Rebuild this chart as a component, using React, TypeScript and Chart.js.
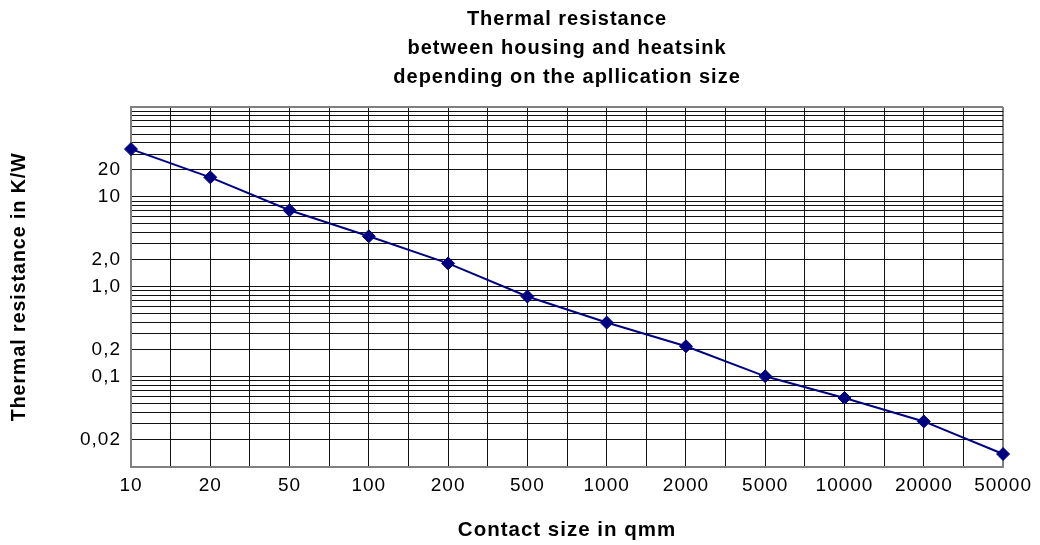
import React, { useEffect, useRef } from 'react';
import { Chart, registerables } from 'chart.js';

Chart.register(...registerables);

// ---- data ----
const categories = ['10', '20', '50', '100', '200', '500', '1000', '2000', '5000', '10000', '20000', '50000'];
const resistance = [34, 16.5, 7.1, 3.65, 1.82, 0.78, 0.4, 0.218, 0.101, 0.058, 0.0318, 0.0138];
const yTickValues = [20, 10, 2, 1, 0.2, 0.1, 0.02];
const yTickLabels = ['20', '10', '2,0', '1,0', '0,2', '0,1', '0,02'];
const titleLines = ['Thermal resistance', 'between housing and heatsink', 'depending on the apllication size'];
const xTitle = 'Contact size in qmm';
const yTitle = 'Thermal resistance in K/W';
const yMin = 0.01;
const yMax = 100;

const FONT = "'Liberation Sans', Arial, Helvetica, sans-serif";
const SPACING = '1px';

const letterSpacingPlugin = {
  id: 'letterSpacing',
  beforeUpdate(chart: any) {
    chart.ctx.letterSpacing = SPACING;
  },
  beforeDraw(chart: any) {
    chart.ctx.letterSpacing = SPACING;
  },
};

function buildLogGrid(): number[] {
  const vals: number[] = [];
  const eMin = Math.round(Math.log10(yMin));
  const eMax = Math.round(Math.log10(yMax));
  for (let e = eMin; e < eMax; e++) {
    for (let m = 1; m <= 9; m++) {
      vals.push(Number((m * Math.pow(10, e)).toPrecision(6)));
    }
  }
  vals.push(yMax);
  return vals;
}

export default function App() {
  const ref = useRef<HTMLCanvasElement>(null);

  useEffect(() => {
    if (!ref.current) return;
    const points = resistance.map((v, i) => ({ x: i, y: v }));
    const nX = categories.length;
    const chart = new Chart(ref.current, {
      type: 'line',
      data: {
        datasets: [
          {
            data: points,
            borderColor: '#000080',
            backgroundColor: '#000080',
            borderWidth: 2,
            pointStyle: 'rectRot',
            pointRadius: 6.5,
            pointBorderWidth: 1,
            pointBackgroundColor: '#000080',
            pointBorderColor: '#000080',
            tension: 0,
            clip: false as any,
          },
        ],
      },
      options: {
        responsive: false,
        maintainAspectRatio: false,
        animation: false,
        color: '#000',
        font: { family: FONT },
        layout: { padding: { left: 0, right: 36, top: 0, bottom: 0 } },
        plugins: {
          legend: { display: false },
          tooltip: { enabled: false },
          title: {
            display: true,
            text: titleLines,
            color: '#000',
            fullSize: false,
            font: { family: FONT, size: 20, weight: 'bold', lineHeight: 1.45 },
            padding: { top: 5, bottom: 15 },
          },
        },
        scales: {
          x: {
            type: 'linear',
            min: 0,
            max: nX - 1,
            afterBuildTicks: (scale: any) => {
              const t = [];
              for (let i = 0; i <= 2 * (nX - 1); i++) t.push({ value: i / 2 });
              scale.ticks = t;
            },
            ticks: {
              autoSkip: false,
              maxRotation: 0,
              minRotation: 0,
              padding: 8,
              color: '#000',
              font: { family: FONT, size: 19 },
              callback: (value: any) => (Number.isInteger(value) ? categories[value] : ''),
            },
            grid: {
              drawTicks: false,
              color: (c: any) => (c.index === 2 * (nX - 1) ? '#808080' : '#111'),
              lineWidth: (c: any) => (c.index === 2 * (nX - 1) ? 2 : 1),
            },
            border: { display: true, color: '#808080', width: 2 },
            title: {
              display: true,
              text: xTitle,
              color: '#000',
              font: { family: FONT, size: 20.5, weight: 'bold', lineHeight: 1.2 },
              padding: { top: 13, bottom: 2 },
            },
          },
          y: {
            type: 'logarithmic',
            min: yMin,
            max: yMax,
            afterBuildTicks: (scale: any) => {
              scale.ticks = buildLogGrid().map((v) => ({ value: v }));
            },
            afterFit: (scale: any) => {
              scale.width = 131;
            },
            ticks: {
              autoSkip: false,
              padding: 10,
              color: '#000',
              font: { family: FONT, size: 19 },
              callback: (value: any) => {
                const v = Number(value);
                const idx = yTickValues.findIndex((t) => Math.abs(v - t) / t < 1e-6);
                return idx >= 0 ? yTickLabels[idx] : '';
              },
            },
            grid: {
              drawTicks: false,
              color: (c: any) => (Math.abs(Number(c.tick?.value) - yMax) < 1e-6 ? '#808080' : '#111'),
              lineWidth: (c: any) => (Math.abs(Number(c.tick?.value) - yMax) < 1e-6 ? 2 : 1),
            },
            border: { display: true, color: '#808080', width: 2 },
            title: {
              display: true,
              text: yTitle,
              color: '#000',
              font: { family: FONT, size: 19.5, weight: 'bold', lineHeight: 1.2 },
              padding: { top: 8, bottom: 0 },
            },
          },
        },
      },
      plugins: [letterSpacingPlugin],
    } as any);
    return () => chart.destroy();
  }, []);

  return (
    <div style={{ position: 'fixed', left: 0, top: 0, width: 1040, height: 545, background: '#fff' }}>
      <canvas ref={ref} width={1040} height={545} style={{ display: 'block' }} />
    </div>
  );
}
